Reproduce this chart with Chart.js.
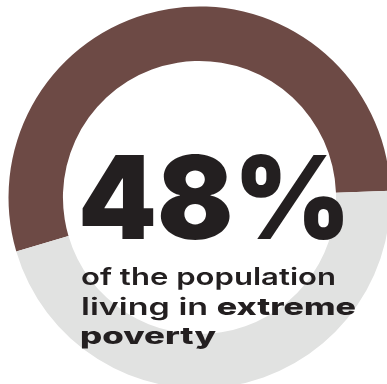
<!DOCTYPE html>
<html>
<head>
<meta charset="utf-8">
<script src="https://cdn.jsdelivr.net/npm/chart.js@4.4.1/dist/chart.umd.min.js"></script>
<style>
  html, body { margin: 0; padding: 0; background: #fff; overflow: hidden; }
  #wrap { position: relative; width: 387px; height: 384px; overflow: hidden; }
  #chartBox { position: absolute; left: 0; top: 0; width: 399px; height: 395px; }
  .t { position: absolute; left: 0; top: 0; white-space: nowrap; color: #231f20;
       font-family: Inter, "Open Sans", sans-serif; transform-origin: 0 0; }
  #big { font-weight: 900; }
  .med { font-weight: 600; }
  b { font-weight: 800; }
</style>
</head>
<body>
<div id="wrap">
  <div id="chartBox"><canvas id="ring" width="399" height="395"></canvas></div>
  <div class="t" id="big">48%</div>
  <div class="t med" id="line1">of the population</div>
  <div class="t med" id="line2">living in <b>extreme</b></div>
  <div class="t med" id="line3"><b>poverty</b></div>
</div>
<script>
// ring segments (clockwise from lower left)
const labels = ['Rest of population', 'Extreme poverty'];
const values = [54, 46];
const colors = ['#6d4a45', '#e1e2e1'];

new Chart(document.getElementById('ring'), {
  type: 'doughnut',
  data: {
    labels: labels,
    datasets: [{
      data: values,
      backgroundColor: colors,
      borderWidth: 0,
      hoverOffset: 0,
      offset: 0
    }]
  },
  options: {
    responsive: false,
    animation: false,
    events: [],
    rotation: 253.6,
    radius: 191,
    cutout: '71.5%',
    layout: { padding: 0 },
    plugins: { legend: { display: false }, tooltip: { enabled: false } }
  }
});

// place the text lines: left edge, baseline, right edge, height of a reference glyph
const ctx = document.createElement('canvas').getContext('2d');
function place(id, left, baseline, right, refChar, refHeight, weight) {
  const el = document.getElementById(id);
  const fam = 'Inter, "Open Sans", sans-serif';
  ctx.font = weight + ' 100px ' + fam;
  const size = refHeight / (ctx.measureText(refChar).actualBoundingBoxAscent / 100);
  ctx.font = weight + ' ' + size + 'px ' + fam;
  const m = ctx.measureText(el.textContent);
  el.style.fontSize = size + 'px';
  el.style.lineHeight = size + 'px';
  const top = baseline - size / 2 - (m.fontBoundingBoxAscent - m.fontBoundingBoxDescent) / 2;
  const w = el.getBoundingClientRect().width;
  const sx = (right - left) / w;
  el.style.left = (left + m.actualBoundingBoxLeft * sx) + 'px';
  el.style.top = top + 'px';
  el.style.transform = 'scaleX(' + sx + ')';
}
place('big', 82, 239, 355, '4', 84, 900);
place('line1', 82, 285, 337, 'l', 17.5, 600);
place('line2', 82, 315, 357, 'l', 17.5, 600);
place('line3', 82, 345, 218, 'p', 12.5, 800);
</script>
</body>
</html>
